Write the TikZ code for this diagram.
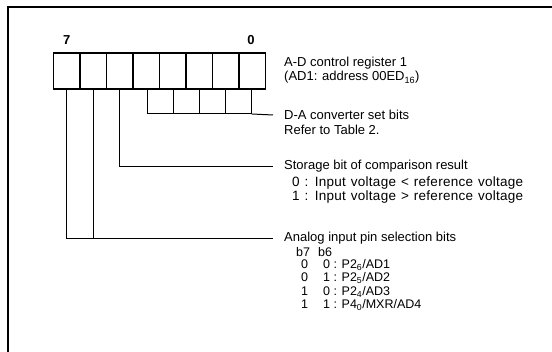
\documentclass[tikz,border=0pt]{standalone}
\usepackage{fontspec}
\setmainfont{Liberation Sans}
\newcommand\widespc{\addfontfeature{LetterSpace=2}\spaceskip=5pt\relax}
\begin{document}
\begin{tikzpicture}[x=1pt,y=-1pt,
  frame/.style={line width=2.6pt},
  regcell/.style={draw,line width=1.6pt,minimum width=26.5pt,minimum height=36.5pt,inner sep=0pt,outer sep=0pt},
  dacell/.style={draw,line width=1pt,minimum width=26pt,minimum height=25pt,inner sep=0pt,outer sep=0pt,anchor=north west},
  conn/.style={line width=1pt},
  lbl/.style={anchor=west,inner sep=0pt,font=\fontsize{13}{14}\selectfont},
  cmp/.style={lbl,font={\fontsize{13.5}{14}\selectfont\widespc}},
  tbl/.style={lbl,font=\fontsize{12.5}{13}\selectfont},
  bitnum/.style={inner sep=0pt,font=\fontsize{13}{14}\selectfont\bfseries}]
\useasboundingbox (0,0) rectangle (552,352);
% frame (top and left edges)
\draw[frame] (8,352) -- (8,7) -- (552,7);
% register cells b7..b0
\foreach \i/\n in {0/7,1/6,2/5,3/4,4/3,5/2,6/1,7/0}{
  \node[regcell] (b\n) at ({53.5+26.5*\i+13.25},71) {};
}
\node[bitnum] (n7) at (66.7,40) {7};
\node[bitnum] (n0) at (251,40) {0};
% D-A converter set bits boxes
\foreach \i in {1,2,3,4}{
  \node[dacell] (da\i) at ({147.7+26*(\i-1)},89) {};
}
% text labels
\node[lbl] (treg) at (284,63) {A-D control register 1};
\node[lbl] (tadr) at (284,77.5) {(AD1: address 00ED\textsubscript{16})};
\node[lbl] (tda) at (284,115) {D-A converter set bits};
\node[lbl] (tref) at (284,130) {Refer to Table 2.};
\node[lbl] (tst) at (284,166.5) {Storage bit of comparison result};
\node[cmp] (tst0) at (292,183) {0 : Input voltage {<} reference voltage};
\node[cmp] (tst1) at (292,197.5) {1 : Input voltage {>} reference voltage};
\node[lbl] (tan) at (284,238.5) {Analog input pin selection bits};
\node[tbl] (thd) at (296,251.7) {b7\hspace{8pt}b6};
\node[tbl] (ta0) at (301,265) {0\hspace{15pt}0 : P2\textsubscript{6}/AD1};
\node[tbl] (ta1) at (301,278.3) {0\hspace{15pt}1 : P2\textsubscript{5}/AD2};
\node[tbl] (ta2) at (301,291.7) {1\hspace{15pt}0 : P2\textsubscript{4}/AD3};
\node[tbl] (ta3) at (301,305) {1\hspace{15pt}1 : P4\textsubscript{0}/MXR/AD4};
% connector end points
\coordinate (eda) at ([xshift=-11pt]tda.west);
\coordinate (est) at ([xshift=-11pt]tst.west);
\coordinate (ean) at ([xshift=-11pt]tan.west);
% connectors
\draw[conn] (da4.south east) -- (eda);
\draw[conn] (b5.south) |- (est);
\draw[conn] (b7.south) |- (ean);
\draw[conn] (b6.south) -- (b6.south |- ean);
\end{tikzpicture}
\end{document}
